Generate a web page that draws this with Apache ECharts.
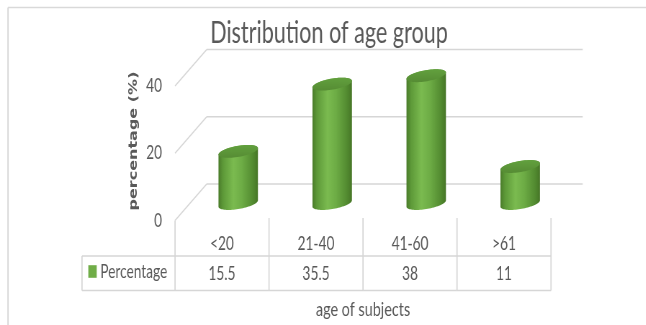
<!DOCTYPE html>
<html><head><meta charset="utf-8">
<script src="https://cdn.jsdelivr.net/npm/echarts@6/dist/echarts.min.js"></script>
<style>
html,body{margin:0;padding:0;background:#fff;overflow:hidden;width:646px;height:325px}
#wrap{width:646px;height:325px;overflow:hidden;position:relative}
#chart{position:absolute;left:0;top:0;height:325px;transform-origin:0 0}
</style></head><body>
<div id="wrap"><div id="chart"></div></div>
<script>
const categories = ['<20', '21-40', '41-60', '>61'];
const percentage = [15.5, 35.5, 38, 11];
const yTicks = [0, 20, 40];
const seriesName = 'Percentage';
const chartTitle = 'Distribution of age group';
const yAxisTitle = 'percentage (%)';
const xAxisTitle = 'age of subjects';

const S = 0.72;                       // horizontal squeeze of the whole picture
const W = Math.round(646 / S);
const el = document.getElementById('chart');
el.style.width = W + 'px';
el.style.transform = 'scaleX(' + S + ')';
const X = v => v / S;

const FONT = 'Lato, "Open Sans", sans-serif';
const TXT = '#595959';
const GRID = '#d6d6d6';
const DXB = X(31.7), DYB = -36.5;     // back wall offset
const DXM = X(16.2), DYM = -17;       // bar depth offset
const EA = 20, EB = 5.5, ETH = -10 * Math.PI / 180;
const tR = Math.atan2(-EB * Math.sin(ETH), EA * Math.cos(ETH));
const tL = tR + Math.PI;

function ellipsePts(cx, cy, t0, t1, n) {
  const pts = [];
  for (let k = 0; k <= n; k++) {
    const t = t0 + (t1 - t0) * k / n;
    const dx = EA * Math.cos(ETH) * Math.cos(t) - EB * Math.sin(ETH) * Math.sin(t);
    const dy = EA * Math.sin(ETH) * Math.cos(t) + EB * Math.cos(ETH) * Math.sin(t);
    pts.push([cx + X(dx), cy + dy]);
  }
  return pts;
}
function line(x1, y1, x2, y2, w) {
  return { type: 'line', shape: { x1, y1, x2, y2 }, style: { stroke: GRID, lineWidth: w || 1.3 } };
}

const bodyGrad = new echarts.graphic.LinearGradient(0, 0, 1, 0, [
  { offset: 0, color: '#4a7c2a' },
  { offset: 0.12, color: '#5e9a39' },
  { offset: 0.38, color: '#7bbb50' },
  { offset: 0.6, color: '#6dac45' },
  { offset: 0.88, color: '#528a30' },
  { offset: 1, color: '#467526' }
]);
const capGrad = new echarts.graphic.LinearGradient(0, 0, 0, 1, [
  { offset: 0, color: '#62a03e' },
  { offset: 1, color: '#568c34' }
]);

function renderWall(params, api) {
  const t = api.value(1);
  const p = api.coord([0, t]);
  const bw = api.size([1, 0])[0];
  const fx = p[0] - bw / 2, fy = p[1];
  const bx = fx + DXB, by = fy + DYB;
  const ex = bx + bw * categories.length;
  return { type: 'group', children: [line(fx, fy, bx, by, 1.6), line(bx, by, ex, by, 1.4)] };
}

function renderBar(params, api) {
  const i = api.value(0), v = api.value(1);
  const top = api.coord([i, v]);
  const base = api.coord([i, 0]);
  const cx = top[0] + DXM, yt = top[1] + DYM, yb = base[1] + DYM;
  const body = ellipsePts(cx, yb, tL, tR, 40).concat(ellipsePts(cx, yt, tR, tR - Math.PI, 40));
  const cap = ellipsePts(cx, yt, 0, 2 * Math.PI, 64);
  return { type: 'group', children: [
    { type: 'polygon', shape: { points: body }, style: { fill: bodyGrad } },
    { type: 'polygon', shape: { points: cap }, style: { fill: capGrad } }
  ] };
}

function renderTable(params, api) {
  const i = api.value(0), v = api.value(1);
  const p = api.coord([i, 0]);
  const bw = api.size([1, 0])[0];
  const x0 = p[0] - bw / 2, x1 = p[0] + bw / 2, y0 = p[1];
  const r1 = y0 + 35.5, r2 = y0 + 70;
  const VW = X(1.2);
  const ch = [
    line(x0, i === 0 ? y0 : y0 - 2.5, x0, r2, VW),
    line(x0, r1, x1, r1, 1.3),
    line(x0, r2, x1, r2, 1.3),
    { type: 'text', style: { text: String(v), x: p[0], y: y0 + 53, align: 'center', verticalAlign: 'middle',
      fontFamily: FONT, fontSize: 19, fill: TXT } }
  ];
  if (i === categories.length - 1) ch.push(line(x1, y0 - 2.5, x1, r2, VW));
  if (i === 0) {
    const lx = x0 - X(93);
    ch.push(line(lx, r1, x0, r1, 1.3), line(lx, r2, x0, r2, 1.3), line(lx, r1, lx, r2, VW));
  }
  return { type: 'group', children: ch };
}

const chart = echarts.init(el, null, { renderer: 'canvas' });
chart.setOption({
  animation: false,
  backgroundColor: '#ffffff',
  title: {
    text: chartTitle, left: X(329), top: 18, padding: 0, textAlign: 'center',
    textStyle: { fontFamily: FONT, fontWeight: 400, fontSize: 30, color: TXT }
  },
  legend: {
    data: [seriesName], left: X(88.3), top: 262, padding: 0, icon: 'rect',
    itemWidth: X(8.4), itemHeight: 12.6, selectedMode: false,
    textStyle: { fontFamily: FONT, fontSize: 19, color: TXT }
  },
  grid: { left: X(175), right: W - X(551), top: 86, bottom: 325 - 220.5, containLabel: false },
  xAxis: {
    type: 'category', data: categories,
    axisLine: { show: false }, axisTick: { show: false }, splitLine: { show: false },
    axisLabel: { fontFamily: FONT, fontSize: 19, color: TXT, margin: 14 },
    name: xAxisTitle, nameLocation: 'middle', nameGap: 79,
    nameTextStyle: { fontFamily: FONT, fontSize: 20, color: TXT }
  },
  yAxis: {
    type: 'value', min: 0, max: 40, interval: 20,
    axisLine: { show: false }, axisTick: { show: false }, splitLine: { show: false },
    axisLabel: { fontFamily: FONT, fontSize: 19, color: TXT, margin: X(13) }
  },
  graphic: [
    { type: 'line', shape: { x1: X(8), y1: 7.5, x2: W + 10, y2: 7.5 }, style: { stroke: '#d9d9d9', lineWidth: 1.4 } },
    { type: 'line', shape: { x1: X(8), y1: 7.5, x2: X(8), y2: 340 }, style: { stroke: '#d9d9d9', lineWidth: X(1.4) } },
    { type: 'text', x: X(134), y: 141, rotation: Math.PI / 2,
      style: { text: yAxisTitle, align: 'center', verticalAlign: 'middle',
        fontFamily: '"DejaVu Sans", sans-serif', fontWeight: 'bold', fontSize: 16, fill: TXT } }
  ],
  series: [
    { type: 'custom', name: 'wall', silent: true, z: 1, renderItem: renderWall,
      data: yTicks.map(t => [0, t]), encode: { x: 0, y: 1 } },
    { type: 'custom', name: seriesName, z: 3, renderItem: renderBar, itemStyle: { color: '#70ad47' },
      data: percentage.map((v, i) => [i, v]), encode: { x: 0, y: 1 } },
    { type: 'custom', name: 'table', silent: true, z: 2, renderItem: renderTable,
      data: percentage.map((v, i) => [i, v]), encode: { x: 0, y: 1 } }
  ]
});
</script>
</body></html>
